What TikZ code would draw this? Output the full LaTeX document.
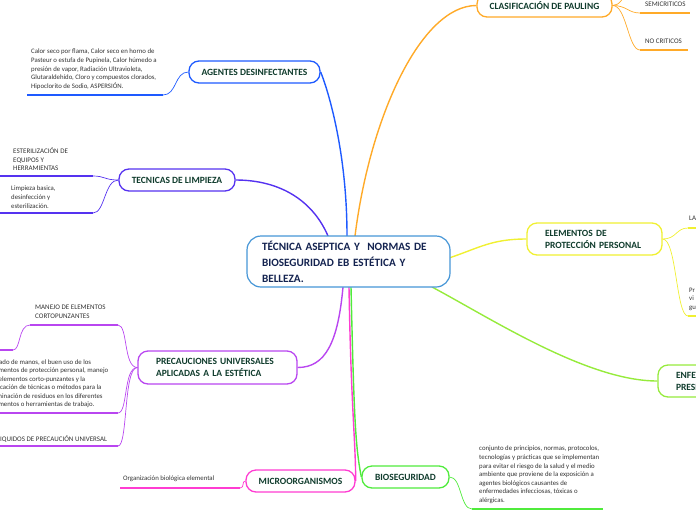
\documentclass[tikz,border=0pt]{standalone}
\usepackage{fontspec}
\setmainfont{Carlito}
\usetikzlibrary{calc}
\definecolor{cCenter}{RGB}{70,150,215}
\definecolor{cAgent}{RGB}{30,90,255}
\definecolor{cTec}{RGB}{85,50,240}
\definecolor{cPrec}{RGB}{185,70,240}
\definecolor{cMicro}{RGB}{255,60,210}
\definecolor{cBio}{RGB}{80,235,60}
\definecolor{cEnf}{RGB}{150,235,60}
\definecolor{cElem}{RGB}{240,240,50}
\definecolor{cPaul}{RGB}{255,170,40}
\definecolor{labelgreen}{RGB}{16,60,45}
\definecolor{navy}{RGB}{20,35,80}
\definecolor{leafgray}{RGB}{50,50,50}
\tikzset{
  mbox/.style={draw, fill=white, rounded corners=10pt, line width=1.3pt, text=labelgreen,
    font=\bfseries\fontsize{9.5}{12}\selectfont, inner sep=0pt, align=center},
  cbox/.style={draw=cCenter, fill=white, rounded corners=14pt, line width=1.2pt, text=navy,
    font=\bfseries\fontsize{11.2}{16}\selectfont, inner ysep=0pt, inner xsep=15pt,
    minimum width=203pt, minimum height=51pt, text width=173pt, align=left},
  leaf/.style={anchor=north west, inner sep=0pt, align=left, text=leafgray,
    font=\fontsize{6.8}{8.8}\selectfont},
  leafcap/.style={leaf, font=\fontsize{7}{8.6}\selectfont},
  branch/.style={line width=1.4pt},
  twig/.style={line width=0.7pt},
  uline/.style={line width=1.7pt}
}
\begin{document}
\begin{tikzpicture}[x=1pt,y=-1pt]
\path[use as bounding box] (0,0) rectangle (696,520);
\clip (0,0) rectangle (696,520);

% ---------- branch start points on the centre node ----------
\coordinate (cAg) at (347,236);
\coordinate (cPa) at (355,236);
\coordinate (cTe) at (328,236);
\coordinate (cPr) at (343,287);
\coordinate (cMi) at (349,287);
\coordinate (cBi) at (351,287);
\coordinate (cEn) at (432,287);
\coordinate (cEl) at (449,258);

% ---------- main nodes ----------
\node[mbox, draw=cAgent, minimum width=131pt, minimum height=22pt] (agent) at (254.5,72) {AGENTES DESINFECTANTES};
\node[mbox, draw=cTec, minimum width=116pt, minimum height=22pt] (tec) at (177,180) {TECNICAS DE LIMPIEZA};
\node[mbox, draw=cPrec, minimum width=159pt, minimum height=33pt, text width=123pt, inner xsep=18pt, align=left] (prec) at (217.5,367.5) {PRECAUCIONES UNIVERSALES\\APLICADAS A LA ESTÉTICA};
\node[mbox, draw=cMicro, minimum width=109pt, minimum height=22pt] (micro) at (300.5,481) {MICROORGANISMOS};
\node[mbox, draw=cBio, minimum width=87pt, minimum height=22pt] (bio) at (405.5,477) {BIOSEGURIDAD};
\node[mbox, draw=cEnf, minimum width=120pt, minimum height=32pt, text width=84pt, inner xsep=18pt, align=left] (enf) at (718,381) {ENFERMEDADES\\PRESENTES};
\node[mbox, draw=cElem, minimum width=135pt, minimum height=32pt, text width=99pt, inner xsep=18pt, align=left] (elem) at (594.5,239) {ELEMENTOS DE\\PROTECCIÓN PERSONAL};
\node[mbox, draw=cPaul, minimum width=135pt, minimum height=23pt] (paul) at (544.5,5.5) {CLASIFICACIÓN DE PAULING};

% connectors centre -> main nodes
\draw[branch, cAgent] (cAg) .. controls +(0,-90) and +(5,12) .. (agent.east);
\draw[branch, cPaul] (cPa) .. controls +(15,-120) and +(-55,0) .. (paul.west);
\draw[branch, cTec] (cTe) .. controls +(-15,-35) and +(45,0) .. (tec.east);
\draw[branch, cPrec] (cPr) .. controls +(-5,55) and +(28,0) .. (prec.east);
\draw[branch, cMicro] (cMi) .. controls +(2,120) and +(0,-40) .. (micro.east);
\draw[branch, cBio] (cBi) .. controls +(3,130) and +(-6,-30) .. (bio.west);
\draw[branch, cEnf] (cEn) .. controls +(60,32) and +(-70,0) .. (enf.west);
\draw[branch, cElem] (cEl) .. controls +(30,-10) and +(-35,0) .. (elem.west);

% centre node on top
\node[cbox] (c) at (348.5,261.5) {TÉCNICA ASEPTICA Y\ \ NORMAS DE\\BIOSEGURIDAD EB ESTÉTICA Y\\BELLEZA.};

% ---------- AGENTES child ----------
\node[leaf] (agtx) at (31,48.5) {Calor seco por flama, Calor seco en horno de\\Pasteur o estufa de Pupinela, Calor húmedo a\\presión de vapor, Radiación Ultravioleta,\\Glutaraldehído, Cloro y compuestos clorados,\\Hipoclorito de Sodio, ASPERSIÓN.};
\coordinate (ag1a) at (27,95);
\coordinate (ag1b) at (163,95);
\draw[twig, cAgent] (agent.west) .. controls +(-14,0) and +(14,0) .. (ag1b);
\draw[uline, cAgent] (ag1a) -- (ag1b);

% ---------- TECNICAS children ----------
\node[leafcap] (te1) at (13,147.5) {ESTERILIZACIÓN DE\\EQUIPOS Y\\HERRAMIENTAS};
\coordinate (t1a) at (-2,176);
\coordinate (t1b) at (93,176);
\node[leaf] (te2) at (11,185.5) {Limpieza basica,\\desinfección y\\esterilización.};
\coordinate (t2a) at (-2,213);
\coordinate (t2b) at (93,213);
\draw[twig, cTec] (tec.west) .. controls +(-14,0) and +(12,0) .. (t1b);
\draw[twig, cTec] (tec.west) .. controls +(-14,0) and +(12,0) .. (t2b);
\draw[uline, cTec] (t1a) -- (t1b);
\draw[uline, cTec] (t2a) -- (t2b);

% ---------- PRECAUCIONES children ----------
\node[leafcap] (pr1) at (35,305) {MANEJO DE ELEMENTOS\\CORTOPUNZANTES};
\coordinate (p1a) at (30,325);
\coordinate (p1b) at (118,325);
\coordinate (p1c) at (13,350);
\coordinate (p1d) at (-3,350);
\node[leaf, font=\fontsize{6.8}{8.5}\selectfont] (pr2) at (-10,359.5) {Lavado de manos, el buen uso de los\\elementos de protección personal, manejo\\de elementos corto-punzantes y la\\aplicación de técnicas o métodos para la\\eliminación de residuos en los diferentes\\elementos o herramientas de trabajo.};
\coordinate (p2a) at (-2,413);
\coordinate (p2b) at (118,413);
\node[leafcap] (pr3) at (-3,435) {LIQUIDOS DE PRECAUCIÓN UNIVERSAL};
\coordinate (p3a) at (-2,446);
\coordinate (p3b) at (118,446);
\draw[twig, cPrec] (prec.west) .. controls +(-14,0) and +(10,0) .. (p1b);
\draw[twig, cPrec] (prec.west) .. controls +(-14,0) and +(10,0) .. (p2b);
\draw[twig, cPrec] (prec.west) .. controls +(-14,0) and +(10,0) .. (p3b);
\draw[twig, cPrec] (p1a) .. controls +(-12,0) and +(8,0) .. (p1c);
\draw[uline, cPrec] (p1a) -- (p1b);
\draw[uline, cPrec] (p1d) -- (p1c);
\draw[uline, cPrec] (p2a) -- (p2b);
\draw[uline, cPrec] (p3a) -- (p3b);

% ---------- MICROORGANISMOS child ----------
\node[leaf] (mi1) at (123,476) {Organización biológica elemental};
\coordinate (m1a) at (120,488);
\coordinate (m1b) at (240,488);
\draw[twig, cMicro] (micro.west) .. controls +(-4,0) and +(5,0) .. (m1b);
\draw[uline, cMicro] (m1a) -- (m1b);

% ---------- BIOSEGURIDAD child ----------
\node[leaf, font=\fontsize{6.8}{8.6}\selectfont] (bi1) at (479,446) {conjunto de principios, normas, protocolos,\\tecnologías y prácticas que se implementan\\para evitar el riesgo de la salud y el medio\\ambiente que proviene de la exposición a\\agentes biológicos causantes de\\enfermedades infecciosas, tóxicas o\\alérgicas.};
\coordinate (b1a) at (472,509);
\coordinate (b1b) at (603,509);
\draw[twig, cBio] (bio.east) .. controls +(12,0) and +(-12,0) .. (b1a);
\draw[uline, cBio] (b1a) -- (b1b);

% ---------- ELEMENTOS children ----------
\node[leafcap] (el1) at (689,215.5) {LA};
\coordinate (e1a) at (688,228);
\coordinate (e1b) at (702,228);
\node[leaf] (el2) at (689,287.5) {Pr\\vi\\gu};
\coordinate (e2a) at (688,316);
\coordinate (e2b) at (702,316);
\draw[twig, cElem] (elem.east) .. controls +(14,0) and +(-12,0) .. (e1a);
\draw[twig, cElem] (elem.east) .. controls +(14,0) and +(-12,0) .. (e2a);
\draw[uline, cElem] (e1a) -- (e1b);
\draw[uline, cElem] (e2a) -- (e2b);

% ---------- PAULING children ----------
\coordinate (pa0) at (640,-25);
\node[leafcap] (pa1) at (645,2) {SEMICRITICOS};
\coordinate (pa1a) at (640,13);
\coordinate (pa1b) at (690,13);
\node[leafcap] (pa2) at (645,39) {NO CRITICOS};
\coordinate (pa2a) at (640,50);
\coordinate (pa2b) at (688,50);
\draw[twig, cPaul] (paul.east) .. controls +(14,0) and +(-12,0) .. (pa0);
\draw[twig, cPaul] (paul.east) .. controls +(14,0) and +(-12,0) .. (pa1a);
\draw[twig, cPaul] (paul.east) .. controls +(14,0) and +(-12,0) .. (pa2a);
\draw[uline, cPaul] (pa1a) -- (pa1b);
\draw[uline, cPaul] (pa2a) -- (pa2b);
\end{tikzpicture}
\end{document}
